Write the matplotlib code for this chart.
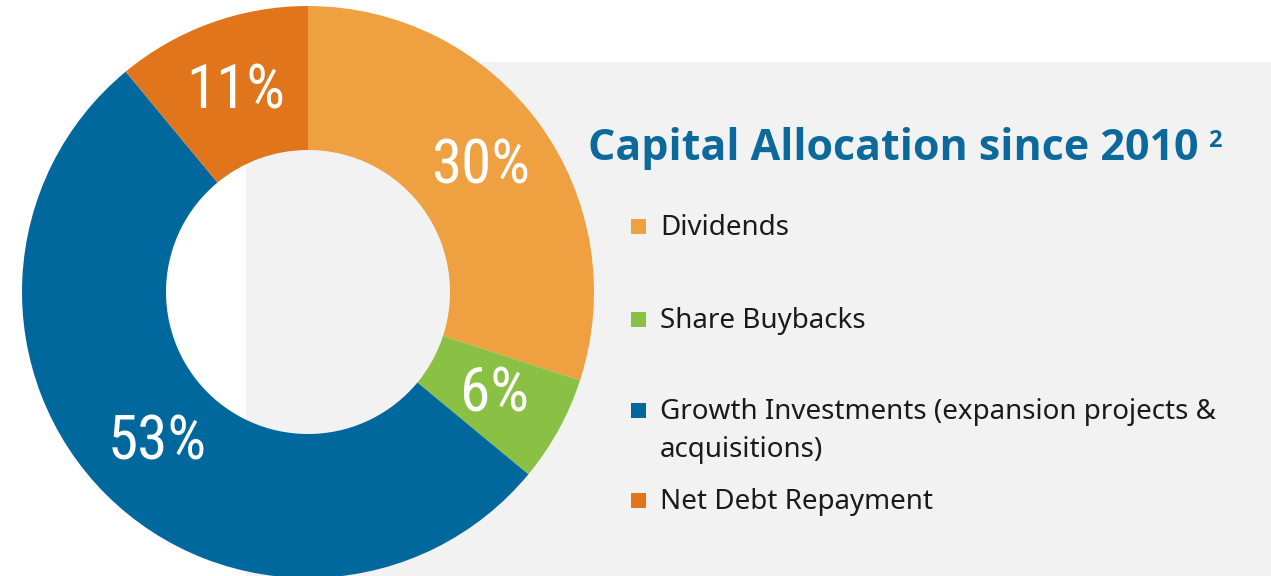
import matplotlib
matplotlib.use("Agg")
import matplotlib.pyplot as plt
from matplotlib.patches import Rectangle

# data
categories = ["Dividends", "Share Buybacks",
              "Growth Investments (expansion projects &\nacquisitions)",
              "Net Debt Repayment"]
shares = [30, 6, 53, 11]
colors = ["#EFA142", "#8AC144", "#00689C", "#E0751B"]
title = "Capital Allocation since 2010"

W, H = 1271, 576
fig = plt.figure(figsize=(W / 100, H / 100), dpi=100)
ax = fig.add_axes([0, 0, 1, 1])

# grey panel behind the legend
ax.add_patch(Rectangle((246, 0), W - 246, H - 62, color="#F2F2F2", zorder=0, lw=0))

# donut
wedges, _, pcts = ax.pie(shares, colors=colors, startangle=90, counterclock=False,
                         center=(308, H - 292), radius=286,
                         wedgeprops=dict(width=144, linewidth=0),
                         autopct=lambda p: "%d%%" % round(p), pctdistance=0.745,
                         textprops=dict(color="white", fontsize=44, fontstretch="condensed",
                                        family=["Roboto Condensed", "Liberation Sans Narrow",
                                                "Roboto"]))
for w in wedges:
    w.set_zorder(2)
for t in pcts:
    t.set_zorder(3)
ax.set_xlim(0, W)
ax.set_ylim(0, H)
ax.set_aspect("equal")
ax.axis("off")

ttl = ax.text(588, H - 148, title, color="#0B6A9B", fontsize=31, fontweight="bold",
              family="Open Sans", va="center", ha="left")
ax.annotate("2", xy=(1, 1), xycoords=ttl, xytext=(7, -2), textcoords="offset points",
            color="#0B6A9B", fontsize=17, fontweight="bold", family="Open Sans",
            va="top", ha="left")

# legend
rows = [[226], [319], [410, 448], [500]]
for cat, col, ys in zip(categories, colors, rows):
    ax.add_patch(Rectangle((631, H - ys[0] - 7.5), 15, 15, color=col, lw=0, zorder=3))
    for line, y in zip(cat.split("\n"), ys):
        ax.text(660, H - y - 2, line, fontsize=20, family="Noto Sans", color="#1a1a1a",
                va="center", ha="left")

fig.savefig("out.png", dpi=100)
